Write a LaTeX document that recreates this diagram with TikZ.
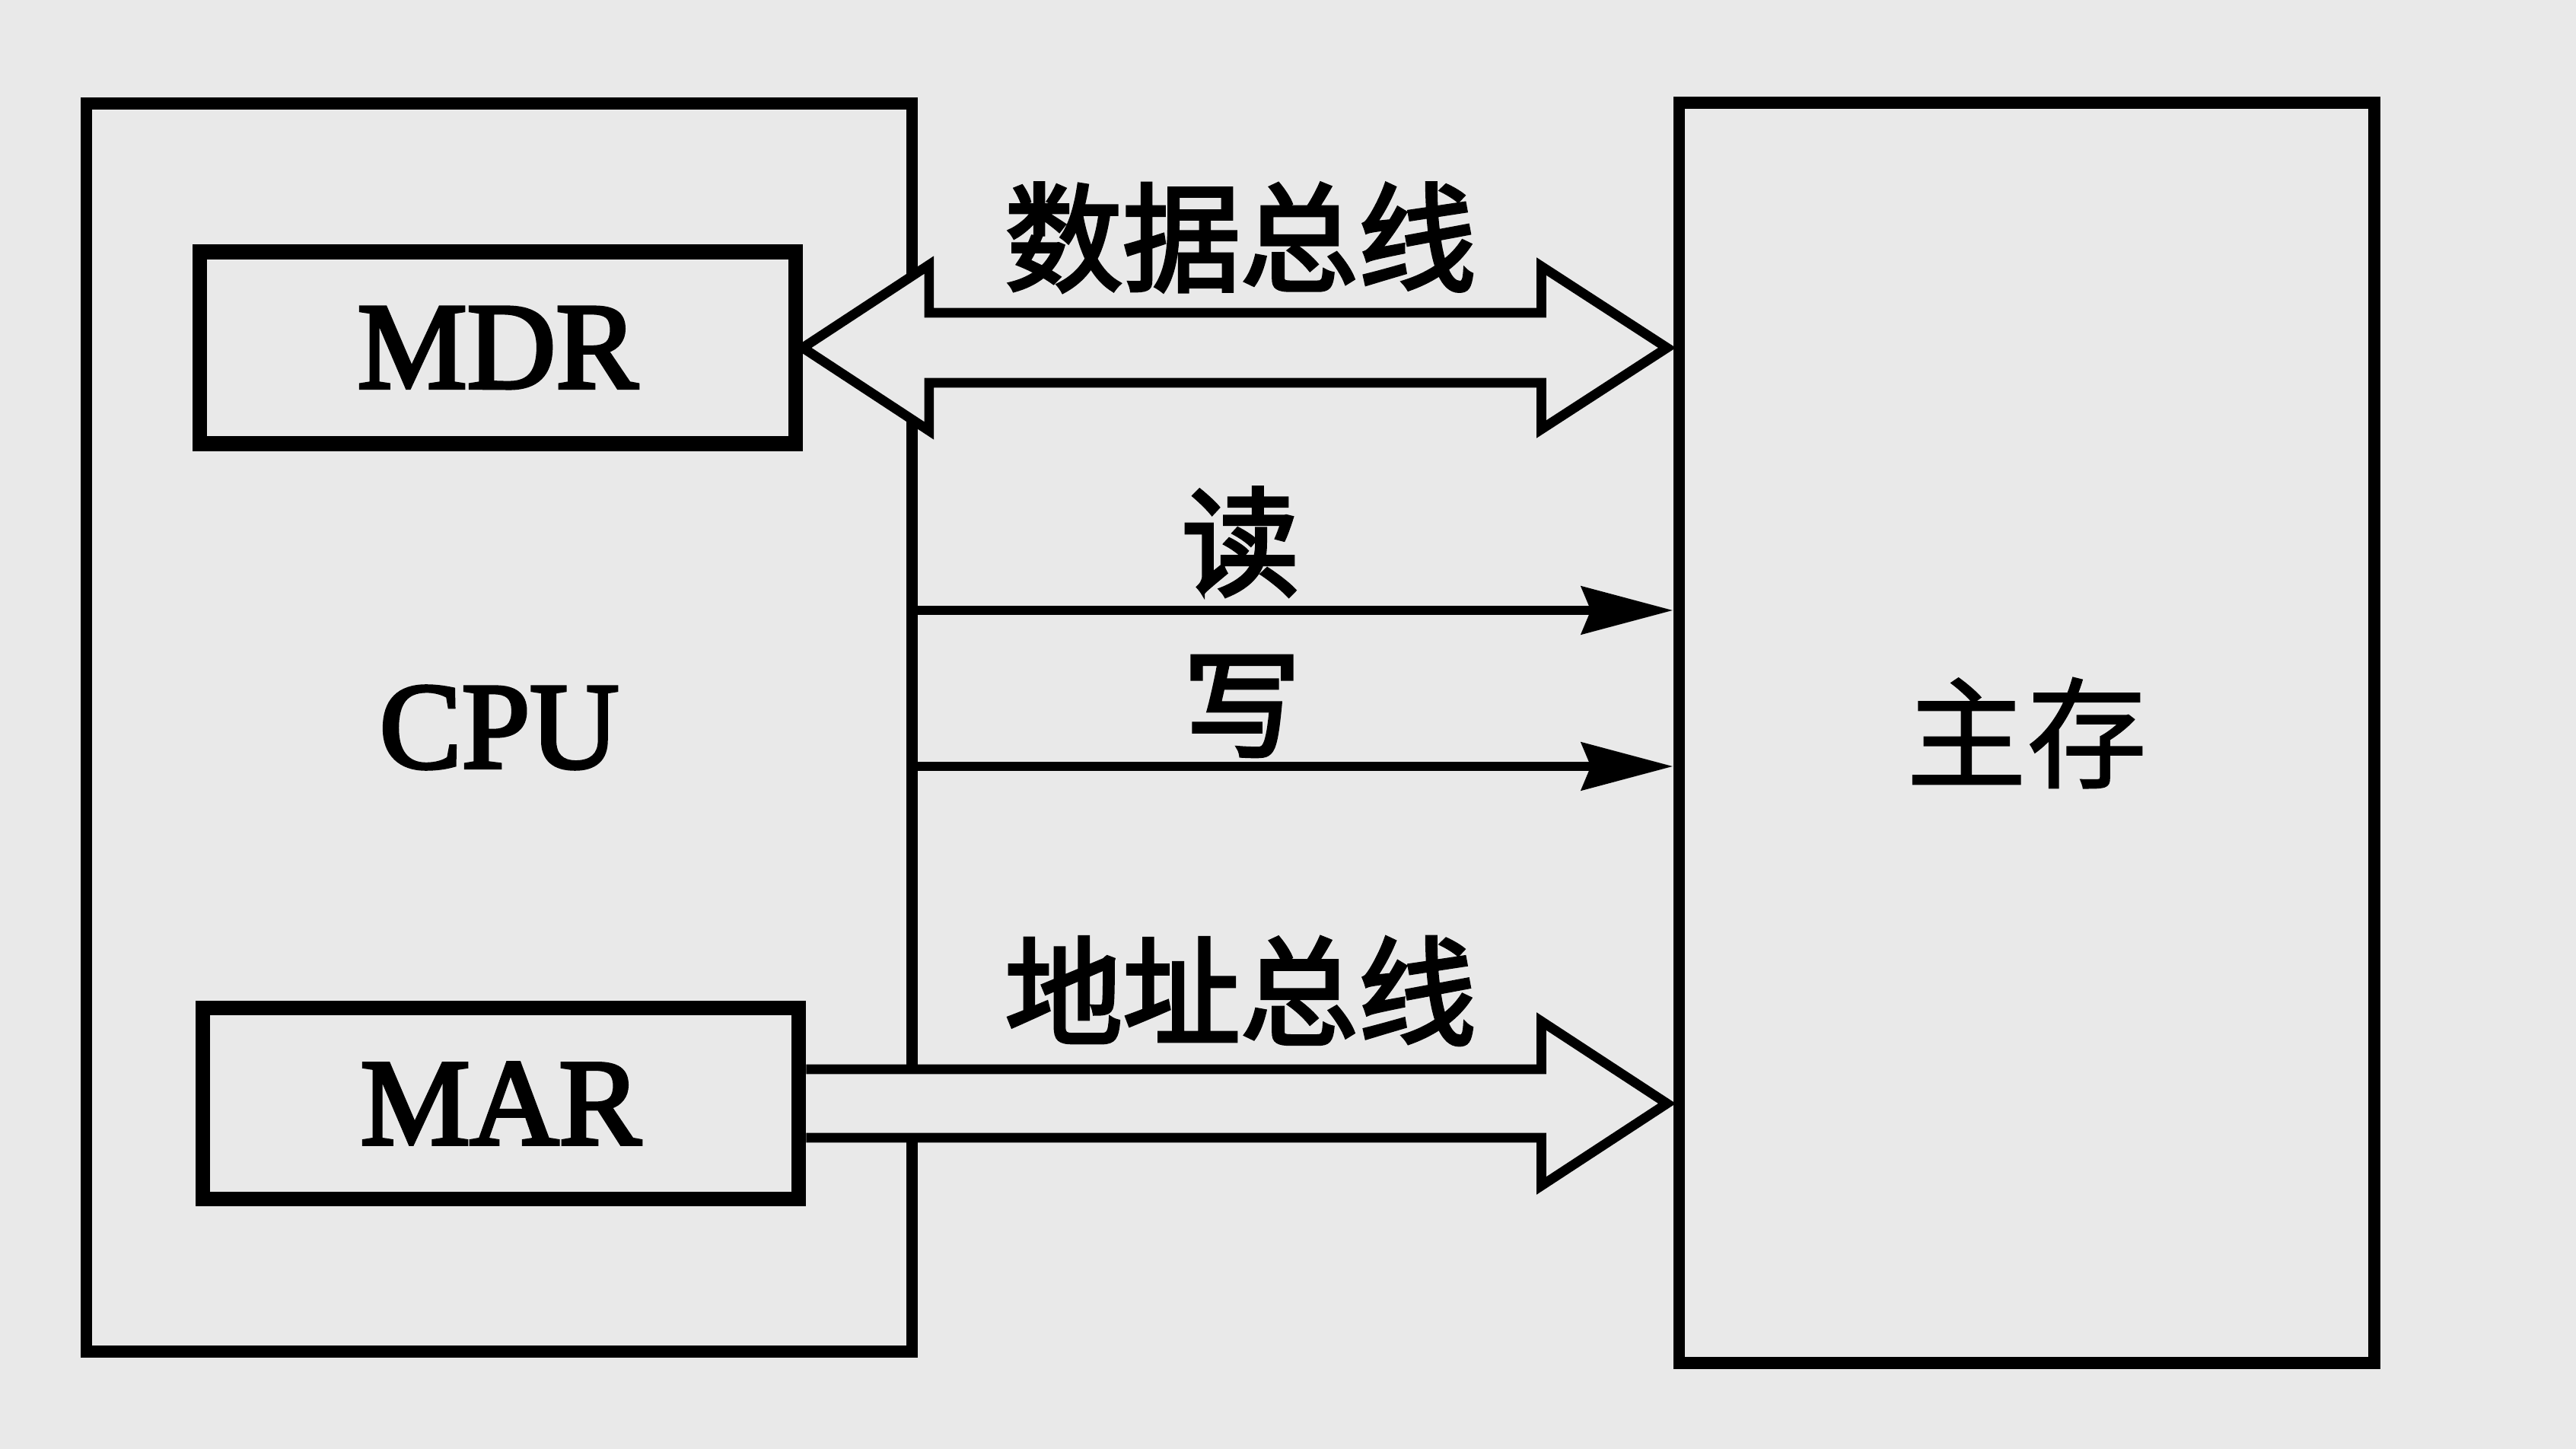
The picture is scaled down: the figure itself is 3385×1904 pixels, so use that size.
\documentclass[tikz,border=0pt]{standalone}
\usepackage{fontspec}
\setmainfont{Liberation Serif}
\newfontfamily\heavyserif[FakeBold=3]{Liberation Serif}
\newfontfamily\cjk[FakeBold=1]{Noto Sans CJK SC}
\newfontfamily\cjkheavy[FakeBold=3]{Noto Sans CJK SC}
\usetikzlibrary{calc,arrows.meta}
\definecolor{paper}{RGB}{233,233,233}
\begin{document}
\begin{tikzpicture}[x=0.01cm,y=-0.01cm,
  outerbox/.style={draw=black,line width=4.4pt,inner sep=0pt,font=\heavyserif\fontsize{46}{50}\selectfont},
  regbox/.style={draw=black,line width=5.5pt,inner sep=0pt,font=\heavyserif\fontsize{46}{50}\selectfont},
  buspath/.style={draw=black,line width=3.6pt,line join=miter},
  sig/.style={draw=black,line width=3.6pt,-{Stealth[length=1.2cm,width=0.62cm,inset=0.12cm]}},
  cjklabel/.style={font=\cjkheavy\fontsize{44}{48}\selectfont,inner sep=0pt}]
\fill[paper] (0,0) rectangle (3385,1904);
\useasboundingbox (0,0) rectangle (3385,1904);
% boxes
\node[outerbox,minimum width=10.84cm,minimum height=16.39cm] (cpu) at (656,956) {CPU};
\node[outerbox,minimum width=9.13cm,minimum height=16.55cm,font=\cjk\fontsize{45}{49}\selectfont] (mem) at (2663,963) {主存};
\node[regbox,minimum width=7.82cm,minimum height=2.52cm] (mdr) at (654,457) {MDR};
\node[regbox,minimum width=7.83cm,minimum height=2.51cm] (mar) at (658,1450) {MAR};
% data bus (double-headed hollow arrow)
\coordinate (dL) at (mdr.east);
\coordinate (dR) at ($(mem.west |- mdr.east)+(-8,0)$);
\draw[buspath,fill=paper] (dL) -- ++(166,-109) -- ++(0,63)
  -- ($(dR)+(-165,-46)$) -- ++(0,-61) -- (dR) -- ++(-165,107) -- ++(0,-61)
  -- ($(dL)+(166,46)$) -- ++(0,63) -- cycle;
% address bus (single hollow arrow)
\coordinate (aR) at ($(mem.west |- mar.east)+(-8,0)$);
\path[fill=paper] ($(mar.east)+(0,-45)$) -- ($(aR)+(-165,-45)$) -- ++(0,-63) -- (aR)
  -- ++(-165,108) -- ++(0,-63) -- ($(mar.east)+(0,45)$) -- cycle;
\draw[buspath] ($(mar.east)+(0,-45)$) -- ($(aR)+(-165,-45)$) -- ++(0,-63) -- (aR)
  -- ++(-165,108) -- ++(0,-63) -- ($(mar.east)+(0,45)$);
% read / write signals
\coordinate (rd) at (0,802);
\coordinate (wr) at (0,1007);
\draw[sig] (cpu.east |- rd) -- (mem.west |- rd);
\draw[sig] (cpu.east |- wr) -- (mem.west |- wr);
% labels
\node[cjklabel] (dbl) at (1630,312) {数据总线};
\node[cjklabel] (abl) at (1630,1302) {地址总线};
\node[cjklabel] (rdl) at (1630,712) {读};
\node[cjklabel] (wrl) at (1632,928) {写};
\end{tikzpicture}
\end{document}
